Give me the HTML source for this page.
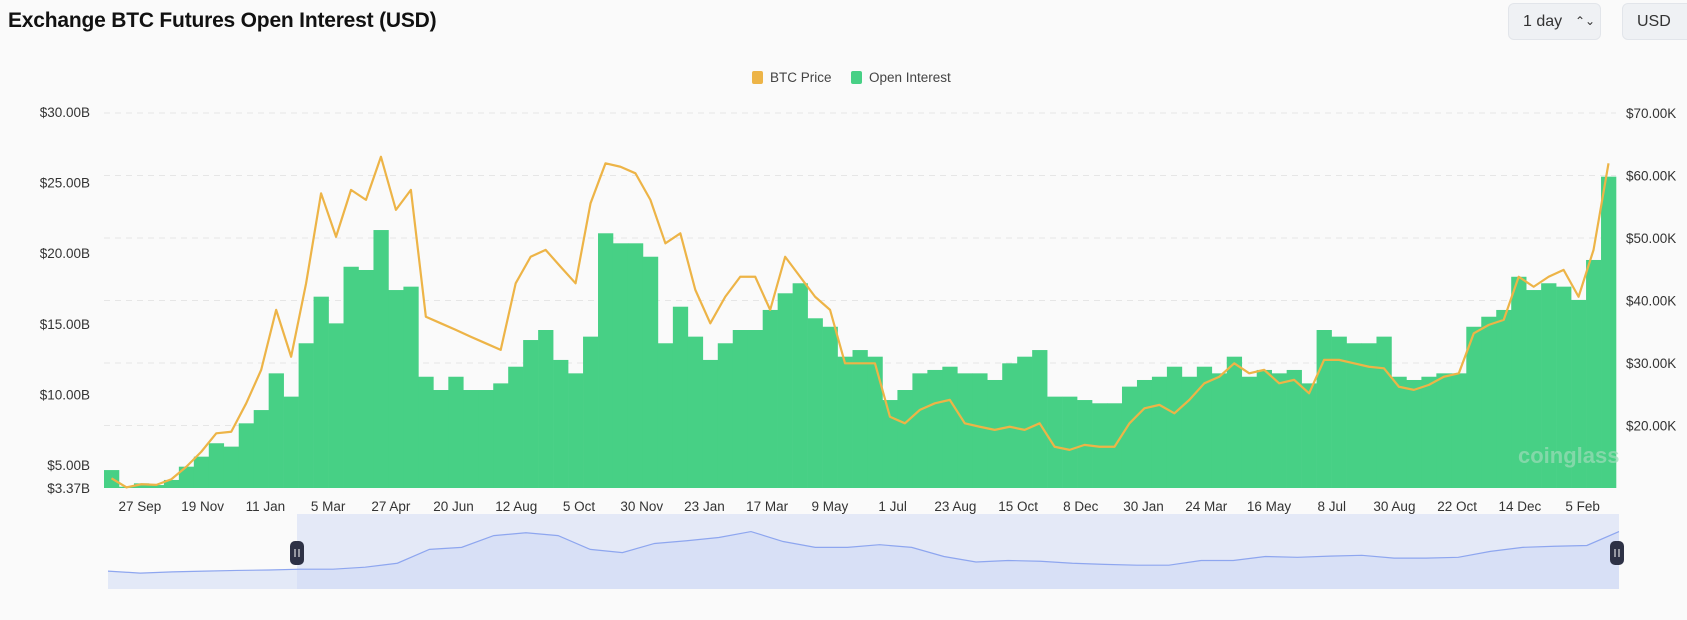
<!DOCTYPE html>
<html><head><meta charset="utf-8"><title>Exchange BTC Futures Open Interest</title>
<style>
html,body{margin:0;padding:0;background:#fafafa;width:1687px;height:620px;overflow:hidden;font-family:"Liberation Sans",sans-serif;}
.title{position:absolute;left:8px;top:9px;font-size:21px;font-weight:bold;color:#111;letter-spacing:-0.2px}
.btn{position:absolute;top:3px;height:37px;background:#eff1f4;border:1px solid #e2e5ea;border-radius:6px;box-sizing:border-box;font-size:16px;color:#333;line-height:35px;padding-left:14px}
</style></head>
<body>
<div class="title">Exchange BTC Futures Open Interest (USD)</div>
<div class="btn" style="left:1508px;width:93px">1 day <span style="font-size:12px;position:absolute;left:66px;top:0">⌃⌄</span></div>
<div class="btn" style="left:1622px;width:80px">USD</div>
<svg id="chart" width="1687" height="620" style="position:absolute;left:0;top:0"></svg>
<script>
const xTickLabels=["27 Sep","19 Nov","11 Jan","5 Mar","27 Apr","20 Jun","12 Aug","5 Oct","30 Nov","23 Jan","17 Mar","9 May","1 Jul","23 Aug","15 Oct","8 Dec","30 Jan","24 Mar","16 May","8 Jul","30 Aug","22 Oct","14 Dec","5 Feb"];
const leftTicks=[30,25,20,15,10,5,3.37];
const leftTickLabels=["$30.00B","$25.00B","$20.00B","$15.00B","$10.00B","$5.00B","$3.37B"];
const rightTicks=[70,60,50,40,30,20];
const rightTickLabels=["$70.00K","$60.00K","$50.00K","$40.00K","$30.00K","$20.00K"];
const openInterest=[4.64,3.46,3.70,3.58,3.94,4.88,5.59,6.54,6.30,7.95,8.89,11.49,9.84,13.62,16.92,15.03,19.04,18.81,21.64,17.39,17.63,11.25,10.31,11.25,10.31,10.31,10.78,11.96,13.85,14.56,12.44,11.49,14.09,21.41,20.70,
20.70,19.75,13.62,16.21,14.09,12.44,13.62,14.56,14.56,15.98,17.16,17.87,15.39,14.79,12.67,13.14,12.67,9.60,10.31,11.49,11.73,11.96,11.49,11.49,11.02,12.20,12.67,13.14,9.84,9.84,9.60,9.37,9.37,
10.55,11.02,11.25,11.96,11.25,11.96,11.49,12.67,11.25,11.73,11.49,11.73,10.78,14.56,14.09,13.62,13.62,14.09,11.25,11.02,11.25,11.49,11.49,14.79,15.50,15.98,18.33,17.39,17.87,17.63,16.69,19.52,25.42];
const btcPrice=[11.55,10.1,10.6,10.5,11.4,13.4,15.8,18.75,19.0,23.55,28.9,38.5,31.0,42.75,57.15,50.2,57.7,56.1,63.0,54.5,57.7,37.4,36.35,35.3,34.2,33.15,32.1,42.75,47.0,48.1,45.4,42.75,55.55,61.95,61.4,
60.35,56.1,49.15,50.75,41.7,36.35,40.6,43.8,43.8,38.5,47.0,43.8,40.6,38.5,29.95,29.95,29.95,21.4,20.35,22.5,23.55,24.1,20.35,19.8,19.3,19.8,19.3,20.35,16.6,16.1,16.9,16.6,16.6,
20.35,22.75,23.3,21.95,24.1,26.75,27.8,29.95,28.35,28.9,26.75,27.3,25.15,30.5,30.5,29.95,29.4,29.15,26.2,25.7,26.5,27.8,28.35,34.75,36.1,36.9,43.8,42.2,43.8,44.9,40.6,48.1,61.95];
const navPrice=[7.9,4.9,6.7,7.9,8.9,9.5,10.7,10.7,13.7,19.6,40.2,43.2,60.7,64.9,60.7,40.2,35.4,49,53.1,57.9,66.7,51.9,43.2,43.2,47.2,43.2,29.6,21.4,23.7,22.5,19.6,17.9,16.7,16.7,23.7,23.7,29.6,28.4,30.2,31.4,27.2,27.2,28.4,37.2,43.2,44.9,46,66.7];

const NS="http://www.w3.org/2000/svg";
const svg=document.getElementById('chart');
function mk(tag,attrs,parent){const e=document.createElementNS(NS,tag);for(const k in attrs)e.setAttribute(k,attrs[k]);(parent||svg).appendChild(e);return e;}
const X0=104,X1=1616,YB=488,YT=112;
const band=(X1-X0)/openInterest.length;
function xBand(i){return X0+i*band;}
function xMid(i){return X0+(i+0.5)*band;}
function yOI(v){return YB-(v-3.37)/(30-3.37)*(YB-YT);}
function yPrice(v){return YB-(v-10)/(70-10)*(YB-113);}
function xTick(k){return xBand(2.4+k*4.19);}

// grid
rightTicks.forEach((t,i)=>{
  const g=mk('line',{x1:X0,x2:X1,y1:yPrice(t),y2:yPrice(t),stroke:'#e6e6e6','stroke-dasharray':'6,5','stroke-width':1});
  
  
  const tx=mk('text',{x:1626,y:yPrice(t)+5,'font-size':13.5,fill:'#333','font-family':'Liberation Sans, sans-serif'});
  tx.textContent=rightTickLabels[i];
  
  
});
leftTicks.forEach((t,i)=>{
  const tx=mk('text',{x:90,y:yOI(t)+5,'font-size':13.5,fill:'#333','text-anchor':'end','font-family':'Liberation Sans, sans-serif'});
  tx.textContent=leftTickLabels[i];
  
  
});
// bars
const barG=mk('g',{});


openInterest.forEach((v,i)=>{
  const y=yOI(v);
  const r=mk('rect',{x:xBand(i),y:y,width:band+0.3,height:YB-y,fill:'#47d085'},barG);
  
  
});
// watermark
const wm=mk('text',{x:1518,y:463,'font-size':22,'font-weight':'bold',fill:'#9ddcb8','fill-opacity':0.7,'font-family':'Liberation Sans, sans-serif'});
wm.textContent='coinglass';


// price line
const pl=mk('polyline',{points:btcPrice.map((v,i)=>xMid(i)+','+yPrice(v)).join(' '),fill:'none',stroke:'#edb447','stroke-width':2.2,'stroke-linejoin':'round'});


// x labels
xTickLabels.forEach((l,k)=>{
  const tx=mk('text',{x:xTick(k),y:511,'font-size':13.5,fill:'#333','text-anchor':'middle','font-family':'Liberation Sans, sans-serif'});
  tx.textContent=l;
  
  
});
// legend
const lg=mk('g',{});


const l1=mk('rect',{x:752,y:71,width:11,height:13,rx:2,fill:'#edb447'},lg);


const t1=mk('text',{x:770,y:82,'font-size':13.5,fill:'#444','font-family':'Liberation Sans, sans-serif'},lg);
t1.textContent='BTC Price';


const l2=mk('rect',{x:851,y:71,width:11,height:13,rx:2,fill:'#47d085'},lg);


const t2=mk('text',{x:869,y:82,'font-size':13.5,fill:'#444','font-family':'Liberation Sans, sans-serif'},lg);
t2.textContent='Open Interest';


// navigator
const NX0=108,NX1=1619,NYB=589;
function nx(i){return NX0+i*(NX1-NX0)/(navPrice.length-1);}
function ny(v){return NYB-(12.6+0.672*v);}
const nbg=mk('rect',{x:NX0,y:514,width:NX1-NX0,height:NYB-514,fill:'#fafafa'});


const area=mk('path',{d:'M'+NX0+','+NYB+' '+navPrice.map((v,i)=>'L'+nx(i)+','+ny(v)).join(' ')+' L'+NX1+','+NYB+' Z',fill:'#e3e9f7'});


const sel=mk('rect',{x:297,y:514,width:NX1-297,height:NYB-514,fill:'#c9d5f4','fill-opacity':0.45});


const nl=mk('polyline',{points:navPrice.map((v,i)=>nx(i)+','+ny(v)).join(' '),fill:'none',stroke:'#8ea6ef','stroke-width':1.2});


[297,1617].forEach((hx,j)=>{
  const h=mk('rect',{x:hx-7,y:541,width:14,height:24,rx:5,fill:'#2e3246'});
  
  
  mk('line',{x1:hx-2,x2:hx-2,y1:549,y2:557,stroke:'#fff','stroke-width':1});
  mk('line',{x1:hx+2,x2:hx+2,y1:549,y2:557,stroke:'#fff','stroke-width':1});
});
</script>
</body></html>
